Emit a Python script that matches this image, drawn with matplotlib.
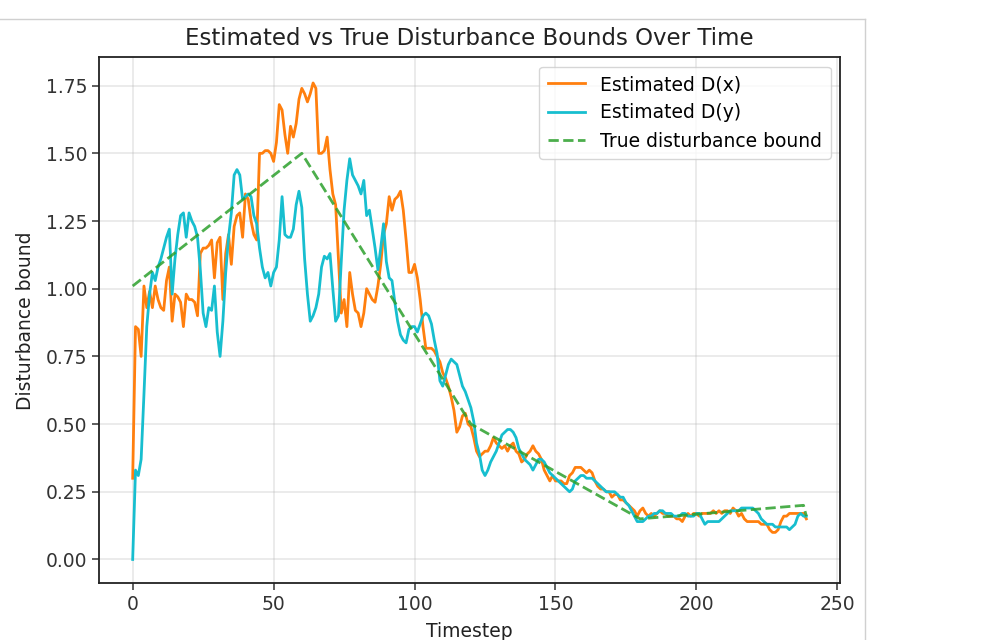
import numpy as np
import matplotlib
matplotlib.use("Agg")
import matplotlib.pyplot as plt
from matplotlib.lines import Line2D

# estimated bound, x component (one value per timestep)
est_dx = [
    0.30, 0.86, 0.85, 0.75, 1.01, 0.93, 0.99, 0.93, 1.01, 0.96,
    0.93, 0.92, 1.03, 1.08, 0.88, 0.98, 0.97, 0.95, 0.86, 0.98,
    0.96, 0.96, 0.95, 0.90, 1.13, 1.15, 1.15, 1.16, 1.18, 1.04,
    1.17, 1.19, 0.96, 1.13, 1.20, 1.09, 1.23, 1.27, 1.28, 1.19,
    1.35, 1.33, 1.25, 1.20, 1.18, 1.50, 1.50, 1.51, 1.51, 1.50,
    1.47, 1.54, 1.68, 1.66, 1.57, 1.50, 1.60, 1.56, 1.61, 1.70,
    1.74, 1.72, 1.69, 1.72, 1.76, 1.74, 1.50, 1.50, 1.51, 1.56,
    1.44, 1.35, 1.31, 1.11, 0.91, 0.96, 0.86, 1.06, 0.98, 0.92,
    0.91, 0.86, 0.91, 1.00, 0.98, 0.96, 0.95, 1.01, 1.09, 1.20,
    1.24, 1.34, 1.29, 1.33, 1.34, 1.36, 1.29, 1.18, 1.06, 1.06,
    1.09, 1.04, 0.96, 0.86, 0.78, 0.78, 0.78, 0.77, 0.75, 0.73,
    0.69, 0.67, 0.64, 0.60, 0.55, 0.47, 0.49, 0.53, 0.54, 0.50,
    0.49, 0.45, 0.40, 0.38, 0.39, 0.40, 0.40, 0.42, 0.45, 0.43,
    0.42, 0.41, 0.42, 0.40, 0.42, 0.43, 0.40, 0.39, 0.36, 0.37,
    0.39, 0.40, 0.42, 0.40, 0.39, 0.37, 0.33, 0.31, 0.29, 0.31,
    0.29, 0.29, 0.29, 0.28, 0.28, 0.31, 0.32, 0.34, 0.34, 0.34,
    0.33, 0.32, 0.33, 0.32, 0.29, 0.27, 0.26, 0.26, 0.25, 0.25,
    0.23, 0.24, 0.24, 0.22, 0.22, 0.21, 0.20, 0.19, 0.18, 0.16,
    0.18, 0.19, 0.17, 0.16, 0.17, 0.16, 0.17, 0.18, 0.17, 0.17,
    0.16, 0.16, 0.16, 0.15, 0.15, 0.14, 0.16, 0.17, 0.16, 0.17,
    0.17, 0.16, 0.17, 0.17, 0.17, 0.17, 0.18, 0.17, 0.18, 0.17,
    0.18, 0.18, 0.17, 0.19, 0.18, 0.16, 0.17, 0.15, 0.14, 0.14,
    0.14, 0.14, 0.14, 0.13, 0.13, 0.13, 0.11, 0.10, 0.10, 0.11,
    0.14, 0.16, 0.16, 0.17, 0.17, 0.17, 0.17, 0.17, 0.17, 0.15,
]

# estimated bound, y component
est_dy = [
    0.00, 0.33, 0.31, 0.37, 0.61, 0.86, 0.98, 1.06, 1.03, 1.08,
    1.11, 1.15, 1.19, 1.22, 0.98, 1.11, 1.20, 1.27, 1.28, 1.19,
    1.28, 1.25, 1.23, 1.19, 1.07, 0.91, 0.86, 0.93, 0.92, 1.01,
    0.84, 0.75, 0.88, 1.06, 1.19, 1.28, 1.42, 1.44, 1.42, 1.33,
    1.34, 1.35, 1.34, 1.27, 1.24, 1.15, 1.08, 1.04, 1.06, 1.01,
    1.06, 1.08, 1.18, 1.34, 1.20, 1.19, 1.19, 1.22, 1.31, 1.36,
    1.30, 1.11, 0.98, 0.88, 0.90, 0.93, 0.98, 1.08, 1.12, 1.11,
    1.13, 1.00, 0.88, 0.90, 1.10, 1.29, 1.40, 1.48, 1.42, 1.40,
    1.38, 1.35, 1.40, 1.27, 1.29, 1.22, 1.15, 1.07, 1.15, 1.24,
    1.10, 1.04, 1.03, 0.95, 0.88, 0.83, 0.81, 0.80, 0.85, 0.86,
    0.86, 0.84, 0.87, 0.90, 0.91, 0.90, 0.87, 0.81, 0.76, 0.66,
    0.64, 0.68, 0.72, 0.74, 0.73, 0.72, 0.68, 0.64, 0.62, 0.59,
    0.56, 0.51, 0.43, 0.39, 0.33, 0.31, 0.33, 0.36, 0.38, 0.40,
    0.43, 0.46, 0.47, 0.48, 0.48, 0.47, 0.45, 0.41, 0.39, 0.37,
    0.36, 0.35, 0.33, 0.35, 0.37, 0.37, 0.36, 0.34, 0.32, 0.31,
    0.30, 0.29, 0.28, 0.27, 0.26, 0.25, 0.26, 0.29, 0.30, 0.31,
    0.31, 0.30, 0.30, 0.30, 0.29, 0.28, 0.27, 0.26, 0.25, 0.25,
    0.25, 0.25, 0.24, 0.23, 0.23, 0.21, 0.20, 0.18, 0.16, 0.14,
    0.14, 0.14, 0.15, 0.16, 0.16, 0.17, 0.17, 0.18, 0.18, 0.17,
    0.17, 0.17, 0.16, 0.16, 0.16, 0.17, 0.17, 0.16, 0.16, 0.16,
    0.17, 0.17, 0.15, 0.13, 0.14, 0.14, 0.14, 0.14, 0.14, 0.15,
    0.16, 0.17, 0.18, 0.18, 0.18, 0.18, 0.19, 0.19, 0.19, 0.19,
    0.19, 0.18, 0.17, 0.15, 0.14, 0.13, 0.13, 0.13, 0.12, 0.12,
    0.12, 0.12, 0.12, 0.11, 0.12, 0.13, 0.16, 0.17, 0.16, 0.16,
]

# true bound is piecewise linear, only its corners
true_t = [0, 60, 120, 180, 238, 239]
true_d = [1.01, 1.50, 0.50, 0.15, 0.20, 0.16]

steps = np.arange(len(est_dx))

fig = plt.figure(figsize=(9.9, 6.4), dpi=100)
ax = fig.add_axes([0.1, 0.0886, 0.7485, 0.822])

ax.plot(steps, est_dx, color="#ff7f0e", lw=2.0, label="Estimated D(x)")
ax.plot(steps, est_dy, color="#17becf", lw=2.0, label="Estimated D(y)")
ax.plot(true_t, true_d, color="#2ca02c", lw=2.0, ls="--", alpha=0.85,
        label="True disturbance bound")

ax.set_xlim(-11.95, 250.95)
ax.set_ylim(-0.088, 1.855)
ax.set_xticks([0, 50, 100, 150, 200, 250])
ax.set_yticks([0.0, 0.25, 0.5, 0.75, 1.0, 1.25, 1.5, 1.75])
ax.yaxis.set_major_formatter(matplotlib.ticker.FormatStrFormatter("%.2f"))

ax.grid(True, color="#b0b0b0", alpha=0.3, lw=1.2)
ax.tick_params(labelsize=13.5, length=5, width=1.1, colors="#333333")
for s in ax.spines.values():
    s.set_linewidth(1.3)
    s.set_color("#222222")

ax.set_title("Estimated vs True Disturbance Bounds Over Time", fontsize=16.5,
             color="#222222", pad=9)
ax.set_xlabel("Timestep", fontsize=13.5, color="#222222", labelpad=6)
ax.set_ylabel("Disturbance bound", fontsize=13.5, color="#222222", labelpad=8)

ax.legend(loc="upper right", fontsize=13.5, framealpha=0.8,
          handlelength=2.0, borderpad=0.45)

# the frame of the notebook output cell
fig.add_artist(Line2D([0, 865 / 990], [1 - 19 / 640, 1 - 19 / 640],
                      transform=fig.transFigure, color="#d0d0d0", lw=1))
fig.add_artist(Line2D([865 / 990, 865 / 990], [0, 1 - 19 / 640],
                      transform=fig.transFigure, color="#d0d0d0", lw=1))

fig.savefig("out.png", dpi=100)
